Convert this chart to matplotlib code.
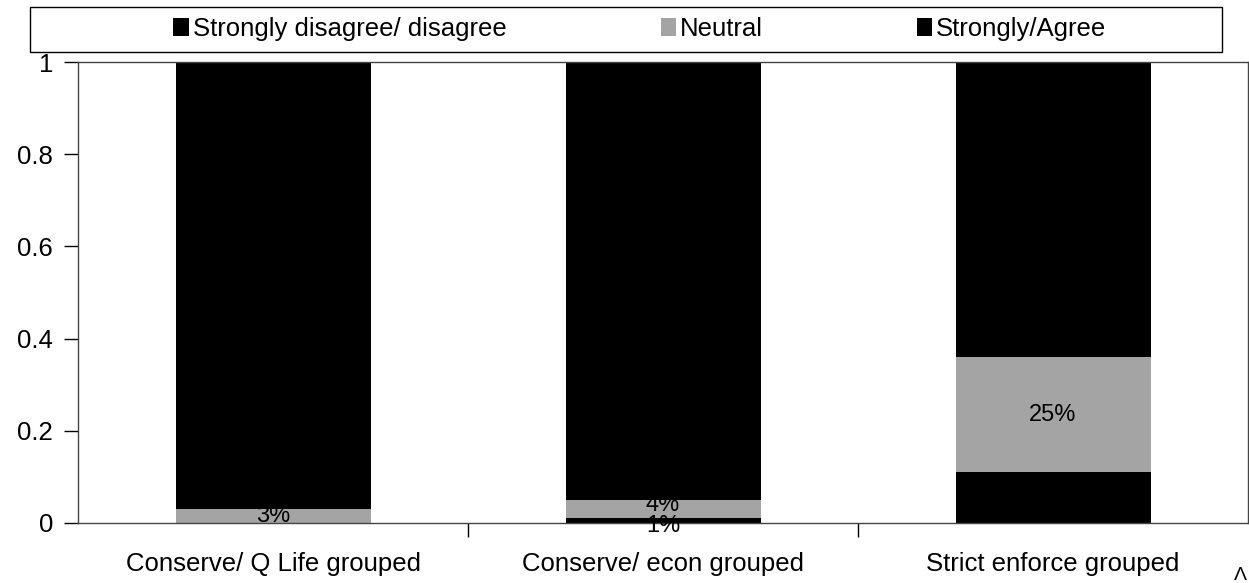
import matplotlib.pyplot as plt
from matplotlib.patches import Rectangle
from matplotlib.ticker import FuncFormatter
import numpy as np

plt.rcParams['font.family'] = ['Liberation Sans', 'DejaVu Sans']

# data
categories = ['Conserve/ Q Life grouped', 'Conserve/ econ grouped', 'Strict enforce grouped']
disagree = [0.0, 0.01, 0.11]
neutral = [0.03, 0.04, 0.25]
agree = [0.97, 0.95, 0.64]
series_names = ['Strongly disagree/ disagree', 'Neutral', 'Strongly/Agree']
colors = ['#000000', '#a4a4a4', '#000000']

W, H = 1249, 583
fig = plt.figure(figsize=(W / 100, H / 100), dpi=100)
ax = fig.add_axes([78 / W, (H - 523) / H, (1248 - 78) / W, (523 - 62) / H])

x = np.arange(len(categories))
bottoms = np.zeros(len(categories))
handles = []
for vals, name, col in zip([disagree, neutral, agree], series_names, colors):
    b = ax.bar(x, vals, width=0.5, bottom=bottoms, color=col, label=name)
    handles.append(b)
    # labels on the lower segments (agree labels are black on black anyway)
    if name != 'Strongly/Agree':
        for xi, v, b0 in zip(x, vals, bottoms):
            if v <= 0:
                continue
            # tiny segments: nudge the labels apart a little, like the original
            dy = 0
            if v < 0.02:
                dy = -4
            elif v < 0.045 and b0 > 0:
                dy = 3
            ax.annotate(f'{v:.0%}', (xi, b0 + v / 2), xytext=(0, dy),
                        textcoords='offset points', ha='center', va='center',
                        fontsize=17, color='black')
    bottoms = bottoms + np.array(vals)

ax.set_xlim(-0.5, 2.5)
ax.set_ylim(0, 1)
ax.set_yticks([0, 0.2, 0.4, 0.6, 0.8, 1.0])
ax.yaxis.set_major_formatter(FuncFormatter(lambda v, p: f'{v:g}'))
ax.set_xticks(x)
ax.set_xticklabels(categories)
ax.set_xticks([0.5, 1.5], minor=True)
ax.tick_params(axis='x', which='major', length=0, pad=21, labelsize=18.5)
ax.tick_params(axis='x', which='minor', length=10, width=1, direction='out')
ax.tick_params(axis='y', length=10, width=1, direction='out', pad=8, labelsize=18.5)
for s in ax.spines.values():
    s.set_color('#444444')
    s.set_linewidth(1)

# legend box above the plot
fig.patches.append(Rectangle((30 / W, (H - 52) / H), (1222 - 30) / W, 45 / H,
                             transform=fig.transFigure, fill=False,
                             edgecolor='black', linewidth=1))
fig.legend(handles=handles, loc='center', bbox_to_anchor=(640 / W, (H - 29) / H),
           ncol=3, frameon=False, fontsize=18.5, handlelength=0.6, handleheight=0.7,
           handletextpad=0.15, columnspacing=6.0)

fig.text(1240 / W, (H - 575) / H, 'Λ', ha='center', va='center', fontsize=14)

fig.savefig('out.png', dpi=100)
